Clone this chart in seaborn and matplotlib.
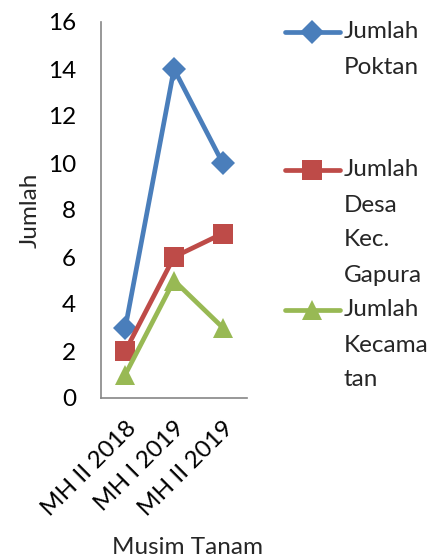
import matplotlib
matplotlib.use("Agg")
import matplotlib.pyplot as plt
from matplotlib.lines import Line2D
import seaborn as sns
import pandas as pd

# Data
seasons = ["MH II 2018", "MH I 2019", "MH II 2019"]
poktan = [3, 14, 10]
desa = [2, 6, 7]
kecamatan = [1, 5, 3]
series_labels = ["Jumlah\nPoktan", "Jumlah\nDesa\nKec.\nGapura", "Jumlah\nKecama\ntan"]

colors = ["#4a7ebb", "#be4b48", "#98b954"]
markers = ["D", "s", "^"]
msizes = [12, 14, 14]

sns.set_theme(style="white")
plt.rcParams["font.family"] = ["Lato", "DejaVu Sans"]
FS = 17.5

W, H = 434, 560
fig = plt.figure(figsize=(W / 100, H / 100), dpi=100)
ax = fig.add_axes([101 / W, 1 - 398 / H, (247 - 101) / W, (398 - 22) / H])

xs = list(range(len(seasons)))
for vals, c, m, ms in zip([poktan, desa, kecamatan], colors, markers, msizes):
    df = pd.DataFrame({"x": xs, "y": vals})
    sns.lineplot(data=df, x="x", y="y", ax=ax, color=c, linewidth=3.4,
                 marker=m, markersize=ms, markeredgewidth=0, legend=False)

ax.set_xlim(-0.5, 2.5)
ax.set_ylim(0, 16)
ax.set_yticks(range(0, 17, 2))
ax.set_xticks(xs)
ax.set_xticks([-0.5, 0.5, 1.5, 2.5], minor=True)
ax.set_xticklabels(seasons, rotation=45, ha="right", rotation_mode="anchor", fontsize=FS)
ax.tick_params(axis="x", which="major", length=0, pad=14)
ax.tick_params(axis="x", which="minor", length=6, width=1.2, color="#868686", direction="out")
ax.tick_params(axis="y", length=6, width=1.2, color="#868686", direction="out", labelsize=FS, pad=12)
ax.tick_params(axis="both", labelcolor="black")
for s in ["top", "right"]:
    ax.spines[s].set_visible(False)
for s in ["left", "bottom"]:
    ax.spines[s].set_color("#868686")
    ax.spines[s].set_linewidth(1.2)
ax.set_xlabel("")
ax.set_ylabel("")
ax.patch.set_alpha(0)

fig.text(30 / W, 1 - 210 / H, "Jumlah", rotation=90, ha="center", va="center", fontsize=FS)
fig.text(187 / W, 1 - 548 / H, "Musim Tanam", ha="center", va="center", fontsize=FS)

# Legend drawn at the right of the plot area
entry_y = [32, 170, 310]
line_step = 35
for lbl, c, m, ms, y0 in zip(series_labels, colors, markers, msizes, entry_y):
    fy = 1 - y0 / H
    fig.add_artist(Line2D([285 / W, 340 / W], [fy, fy], transform=fig.transFigure,
                          color=c, linewidth=3.4, marker=None))
    fig.add_artist(Line2D([312 / W], [fy], transform=fig.transFigure, color=c,
                          marker=m, markersize=ms, markeredgewidth=0, linestyle="none"))
    for i, part in enumerate(lbl.split("\n")):
        fig.text(344 / W, 1 - (y0 + i * line_step) / H, part, ha="left", va="center", fontsize=FS)

fig.savefig("out.png", dpi=100)
